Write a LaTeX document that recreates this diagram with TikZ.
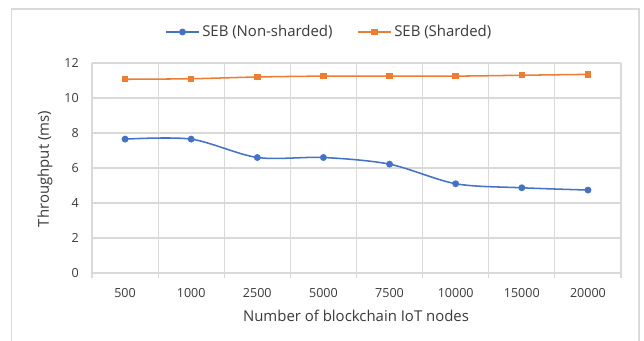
\documentclass[tikz,border=0pt]{standalone}
\usepackage{fontspec}
\setmainfont{Open Sans}
\definecolor{seriesblue}{HTML}{4472C4}
\definecolor{seriesorange}{HTML}{ED7D31}
\definecolor{gridgray}{HTML}{D9D9D9}
\definecolor{labelgray}{HTML}{3A3A3A}
\begin{document}
\begin{tikzpicture}[x=0.75pt,y=-0.75pt,
  framepath/.style={draw=gridgray, line width=0.9pt},
  gridline/.style={draw=gridgray, line width=0.9pt},
  ticklab/.style={font=\fontsize{9.4}{11}\selectfont, text=labelgray, inner sep=0pt},
  axistitle/.style={font=\fontsize{11.2}{13}\selectfont, text=labelgray, inner sep=0pt},
  legendtext/.style={font=\fontsize{11.2}{13}\selectfont, text=labelgray, inner sep=0pt, anchor=west},
  blueseries/.style={draw=seriesblue, line width=1.15pt},
  orangeseries/.style={draw=seriesorange, line width=1.15pt},
  bluemark/.style={circle, fill=seriesblue, inner sep=0pt, minimum size=5.2pt},
  orangemark/.style={rectangle, fill=seriesorange, inner sep=0pt, minimum size=4.8pt},
]
\useasboundingbox (0,0) rectangle (644,341);
\fill[white] (0,0) rectangle (644,341);

% chart frame (bottom edge runs off the page)
\draw[framepath] (11.5,345) -- (11.5,9) -- (639,9) -- (639,345);

% horizontal grid lines and value labels
\foreach \v in {0,2,...,12} {
  \draw[gridline] (92,{273-17.5*\v}) -- (621,{273-17.5*\v});
  \node[ticklab, anchor=east] (ylab\v) at (79,{273-17.5*\v}) {\v};
}
% vertical category dividers with small ticks below the axis
\foreach \i in {0,...,8} {
  \draw[gridline] ({92+66.125*\i},63) -- ({92+66.125*\i},278);
}
% category labels
\foreach \c [count=\i from 0] in {500,1000,2500,5000,7500,10000,15000,20000} {
  \node[ticklab] (xlab\i) at ({125.06+66.125*\i},293) {\c};
}

% axis titles
\node[axistitle] (xtitle) at (356,316) {Number of blockchain IoT nodes};
\node[axistitle, rotate=90] (ytitle) at (45,169) {Throughput (ms)};

% data series: one unit across per category, value axis upwards
\begin{scope}[shift={(92,273)}, x=49.594pt, y=13.125pt]
  \draw[orangeseries] plot[smooth, tension=0.5] coordinates
    {(0.5,11.07) (1.5,11.1) (2.5,11.2) (3.5,11.25) (4.5,11.25) (5.5,11.25) (6.5,11.3) (7.5,11.35)};
  \foreach \x/\y [count=\k] in {0.5/11.07,1.5/11.1,2.5/11.2,3.5/11.25,4.5/11.25,5.5/11.25,6.5/11.3,7.5/11.35}
    \node[orangemark] (o\k) at (\x,\y) {};
  \draw[blueseries] plot[smooth, tension=0.5] coordinates
    {(0.5,7.65) (1.5,7.65) (2.5,6.6) (3.5,6.6) (4.5,6.22) (5.5,5.1) (6.5,4.87) (7.5,4.74)};
  \foreach \x/\y [count=\k] in {0.5/7.65,1.5/7.65,2.5/6.6,3.5/6.6,4.5/6.22,5.5/5.1,6.5/4.87,7.5/4.74}
    \node[bluemark] (b\k) at (\x,\y) {};
\end{scope}

% legend
\coordinate (lb1) at (166,32);
\coordinate (lb2) at (199,32);
\draw[blueseries] (lb1) -- (lb2);
\node[bluemark] (lbm) at (182.5,32) {};
\node[legendtext] (lbt) at (202,32) {SEB (Non-sharded)};
\coordinate (lo1) at (358,32);
\coordinate (lo2) at (391,32);
\draw[orangeseries] (lo1) -- (lo2);
\node[orangemark] (lom) at (374.5,32) {};
\node[legendtext] (lot) at (394,32) {SEB (Sharded)};
\end{tikzpicture}
\end{document}
